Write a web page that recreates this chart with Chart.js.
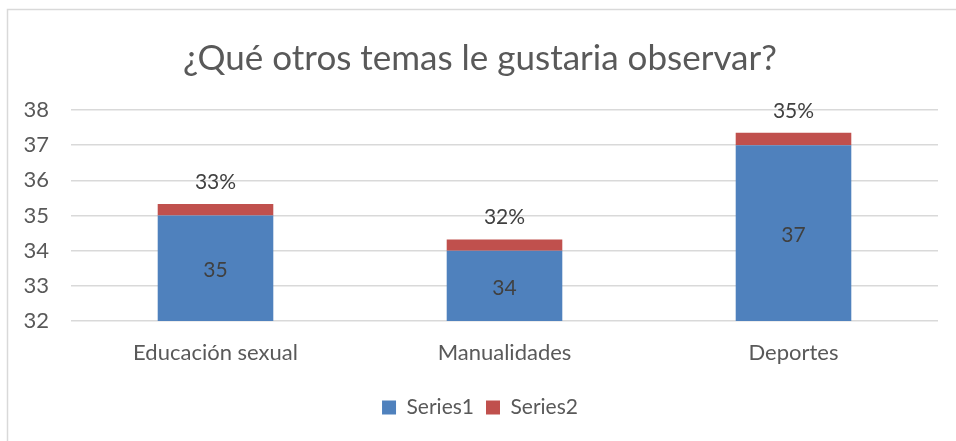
<!DOCTYPE html>
<html>
<head>
<meta charset="utf-8">
<script src="https://cdn.jsdelivr.net/npm/chart.js@4/dist/chart.umd.min.js"></script>
<style>
  body { margin: 0; background: #fff; }
  #wrap { width: 956px; height: 441px; position: relative; }
</style>
</head>
<body>
<div id="wrap"><canvas id="graphCanvas" width="956" height="441"></canvas></div>
<script>
var categories = ['Educación sexual', 'Manualidades', 'Deportes'];
var series1 = [35, 34, 37];
var series2 = [0.33, 0.32, 0.35];
var yTicks = [32, 33, 34, 35, 36, 37, 38];

var textColor = '#595959';
var fontFamily = 'Lato, "Open Sans", sans-serif';

// frame lines (top and left edge of the chart box)
var framePlugin = {
    id: 'frame',
    beforeDraw: function(chart) {
        var ctx = chart.ctx;
        ctx.save();
        ctx.fillStyle = '#fff';
        ctx.fillRect(0, 0, chart.width, chart.height);
        ctx.strokeStyle = '#d9d9d9';
        ctx.lineWidth = 1.5;
        ctx.beginPath();
        ctx.moveTo(7.5, chart.height);
        ctx.lineTo(7.5, 9.5);
        ctx.lineTo(chart.width, 9.5);
        ctx.stroke();
        ctx.restore();
    }
};

// value labels: Series1 in the middle of the bar, Series2 above the stack
var labelPlugin = {
    id: 'barLabels',
    afterDatasetsDraw: function(chart) {
        var ctx = chart.ctx;
        var bottom = chart.chartArea.bottom;
        ctx.save();
        ctx.fillStyle = '#404040';
        ctx.font = '21px ' + fontFamily;
        ctx.textAlign = 'center';
        ctx.textBaseline = 'middle';
        chart.getDatasetMeta(0).data.forEach(function(bar, i) {
            var base = Math.min(bar.base, bottom);
            ctx.fillText(series1[i], bar.x, (bar.y + base) / 2 + 2);
        });
        chart.getDatasetMeta(1).data.forEach(function(bar, i) {
            ctx.fillText(Math.round(series2[i] * 100) + '%', bar.x, bar.y - 22);
        });
        ctx.restore();
    }
};

var chartdata = {
    labels: categories,
    datasets: [{
        label: 'Series1',
        backgroundColor: '#4f81bd',
        data: series1
    }, {
        label: 'Series2',
        backgroundColor: '#c0504d',
        data: series2
    }]
};

new Chart(document.getElementById('graphCanvas'), {
    type: 'bar',
    data: chartdata,
    plugins: [framePlugin, labelPlugin],
    options: {
        responsive: false,
        animation: false,
        categoryPercentage: 1,
        barPercentage: 0.4,
        layout: { padding: { top: 10, right: 18, bottom: 13, left: 22 } },
        scales: {
            x: {
                stacked: true,
                grid: { display: false },
                border: { display: false },
                ticks: { color: textColor, font: { family: fontFamily, size: 22 }, padding: 11 },
                afterFit: function(s) { s.height = 64; }
            },
            y: {
                stacked: true,
                min: yTicks[0],
                max: yTicks[yTicks.length - 1],
                afterBuildTicks: function(s) {
                    s.ticks = yTicks.map(function(v) { return { value: v }; });
                },
                grid: { color: '#d9d9d9', lineWidth: 1.5, drawTicks: false },
                border: { display: false },
                ticks: { color: textColor, font: { family: fontFamily, size: 22 }, padding: 22 },
                afterFit: function(s) { s.width = 49; }
            }
        },
        plugins: {
            title: {
                display: true,
                text: '¿Qué otros temas le gustaria observar?',
                color: textColor,
                font: { family: fontFamily, size: 35, weight: 'normal' },
                padding: { top: 28, bottom: 30 }
            },
            legend: {
                position: 'bottom',
                labels: {
                    color: textColor,
                    font: { family: fontFamily, size: 21 },
                    boxWidth: 14,
                    boxHeight: 14,
                    padding: 12
                }
            },
            tooltip: { enabled: false }
        }
    }
});
</script>
</body>
</html>
